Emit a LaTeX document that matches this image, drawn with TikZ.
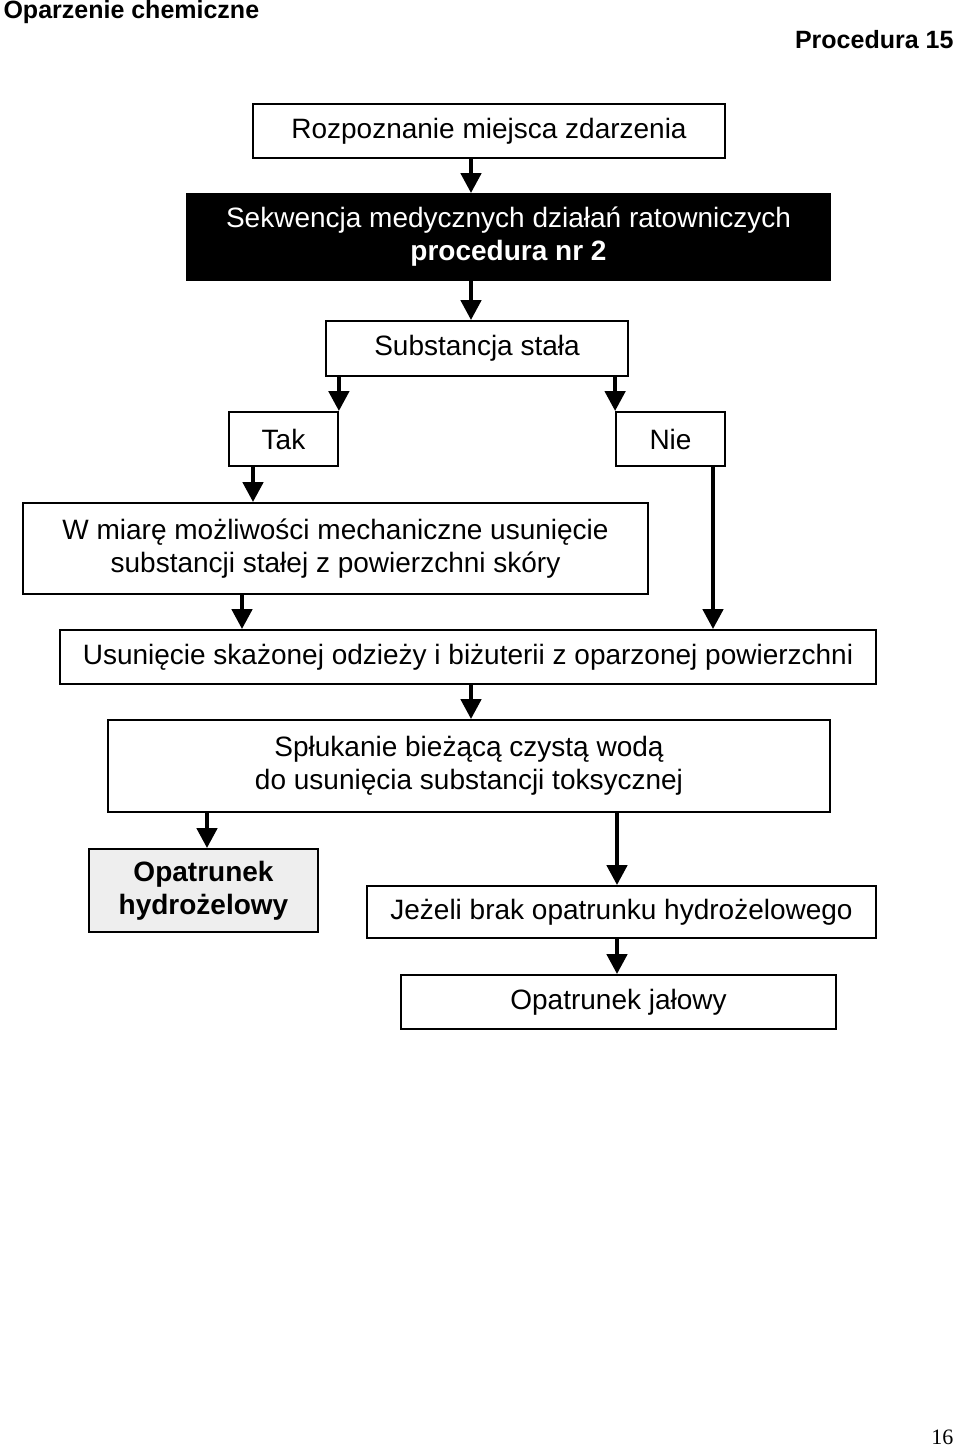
\documentclass[tikz,border=0pt]{standalone}
\usepackage{fontspec}
\setmainfont{Liberation Sans}
\newfontfamily\pagefont{Liberation Serif}
\usepackage{xcolor}
\usepackage{tikz}
\usetikzlibrary{arrows.meta}
\definecolor{lightgray}{HTML}{EEEEEE}
\tikzset{
	box/.style={draw, line width=1.8pt, inner sep=0pt, align=center, font=\fontsize{28}{33}\selectfont},
	blackbox/.style={box, fill=black, text=white},
	arr/.style={line width=4.5pt, -{Triangle[width=20pt,length=20pt]}}
}

\begin{document}
\begin{tikzpicture}[x=1pt,y=-1pt]
				\useasboundingbox (0,0) rectangle (960,1448);
				
				% header
				\node[anchor=west, font=\fontsize{25}{28}\selectfont\bfseries] (title) at (0,12) {Oparzenie chemiczne};
				\node[anchor=east, font=\fontsize{25}{28}\selectfont\bfseries] (proc) at (957,40) {Procedura 15};
				
				% boxes
				\node[box, minimum width=472pt, minimum height=54pt] (rozp) at (489,131) {Rozpoznanie miejsca zdarzenia};
				\node[blackbox, minimum width=643pt, minimum height=86pt] (sekw) at (508.5,237) {Sekwencja medycznych działań ratowniczych\\ \textbf{procedura nr 2}};
				\node[box, minimum width=302pt, minimum height=55pt] (subst) at (477,348.5) {Substancja stała};
				\node[box, minimum width=109pt, minimum height=54pt] (tak) at (283.5,439) {Tak};
				\node[box, minimum width=109pt, minimum height=54pt] (nie) at (670.5,439) {Nie};
				\node[box, minimum width=625pt, minimum height=91pt] (miare) at (335.5,548.5) {W miarę możliwości mechaniczne usunięcie\\ substancji stałej z powierzchni skóry};
				\node[box, minimum width=816pt, minimum height=54pt] (usun) at (468,657) {Usunięcie skażonej odzieży i biżuterii z oparzonej powierzchni};
				\node[box, minimum width=722pt, minimum height=92pt] (splu) at (469,766) {Spłukanie bieżącą czystą wodą\\ do usunięcia substancji toksycznej};
				\node[box, fill=lightgray, minimum width=229pt, minimum height=83pt, font=\fontsize{28}{33}\selectfont\bfseries] (hydro) at (203.5,890.5) {Opatrunek\\ hydrożelowy};
				\node[box, minimum width=509pt, minimum height=52pt] (jezeli) at (621.5,912) {Jeżeli brak opatrunku hydrożelowego};
				\node[box, minimum width=435pt, minimum height=54pt] (jalowy) at (618.5,1002) {Opatrunek jałowy};
				
				% arrow lines
				\coordinate (midl) at (471,0);
				\coordinate (midr) at (617,0);
				\coordinate (takx) at (253,0);
				\coordinate (niex) at (713,0);
				\coordinate (miarex) at (242,0);
				\coordinate (hydrox) at (207,0);
				
				\foreach \a/\b/\s in
				{rozp/sekw/midl, sekw/subst/midl, subst/tak/tak.east, subst/nie/nie.west,
				 tak/miare/takx, nie/usun/niex, miare/usun/miarex, usun/splu/midl,
				 splu/hydro/hydrox, splu/jezeli/midr, jezeli/jalowy/midr}{
					\draw[arr] (\a.south -| \s) -- (\b.north -| \s);
				}
				
				\node[anchor=east, font=\pagefont\fontsize{22}{24}\selectfont] (page) at (957,1437) {16};
			\end{tikzpicture}
\end{document}
